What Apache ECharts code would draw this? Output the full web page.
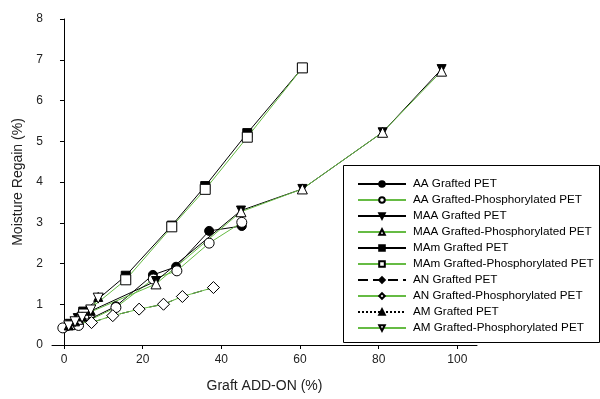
<!DOCTYPE html>
<html>
<head>
<meta charset="utf-8">
<script src="https://cdn.jsdelivr.net/npm/echarts@6/dist/echarts.min.js"></script>
<style>
  html, body { margin: 0; padding: 0; background: #fff; }
  #chart { width: 600px; height: 399px; }
</style>
</head>
<body>
<div id="chart"></div>
<script>
// data: [graft add-on %, moisture regain %]
var aaGrafted   = [[0, 0.42], [3.7, 0.5], [13.2, 0.95], [22.6, 1.72], [28.5, 1.92], [36.9, 2.8], [45.2, 2.92]];
var aaPhos      = [[-0.3, 0.42], [3.7, 0.48], [13.2, 0.92], [22.7, 1.62], [28.7, 1.82], [36.9, 2.5], [45.2, 3.01]];
var maaGrafted  = [[1.5, 0.52], [3.5, 0.66], [6.5, 0.82], [23.4, 1.57], [45, 3.3], [60.6, 3.83], [81, 5.22], [96, 6.77]];
var maaPhos     = [[1.5, 0.5], [3.5, 0.63], [6.5, 0.8], [23.4, 1.5], [45, 3.27], [60.6, 3.83], [81, 5.22], [96, 6.72]];
var mamGrafted  = [[4.9, 0.82], [15.7, 1.7], [27.4, 2.93], [35.9, 3.9], [46.6, 5.2], [60.6, 6.8]];
var mamPhos     = [[5, 0.76], [15.7, 1.6], [27.4, 2.9], [35.9, 3.82], [46.6, 5.1], [60.6, 6.8]];
var anGrafted   = [[7, 0.55], [12.4, 0.72], [19.1, 0.88], [25.3, 1.0], [30.1, 1.19], [38, 1.41]];
var anPhos      = [[7, 0.55], [12.4, 0.72], [19.1, 0.88], [25.3, 1.0], [30.1, 1.19], [38, 1.41]];
var amGrafted   = [[1.2, 0.48], [2.8, 0.58], [4.6, 0.7], [6.8, 0.84], [8.7, 1.18]];
var amPhos      = [[1.2, 0.47], [2.8, 0.57], [4.6, 0.68], [6.8, 0.86], [8.7, 1.15]];

var xTicks = [0, 20, 40, 60, 80, 100];
var names = [
  'AA Grafted PET', 'AA Grafted-Phosphorylated PET',
  'MAA Grafted PET', 'MAA Grafted-Phosphorylated PET',
  'MAm Grafted PET', 'MAm Grafted-Phosphorylated PET',
  'AN Grafted PET', 'AN Grafted-Phosphorylated PET',
  'AM Grafted PET', 'AM Grafted-Phosphorylated PET'
];

var green = '#66bb44';

function mk(name, data, color, symbol, filled, size, lineType, rotate) {
  return {
    name: name,
    type: 'line',
    data: data,
    symbol: symbol,
    symbolSize: size,
    symbolRotate: rotate || 0,
    showAllSymbol: true,
    animation: false,
    lineStyle: { color: color, width: 1, type: lineType || 'solid' },
    itemStyle: { color: filled ? '#000' : '#fff', borderColor: '#000', borderWidth: 1 }
  };
}

var chart = echarts.init(document.getElementById('chart'));
chart.setOption({
  backgroundColor: '#fff',
  textStyle: { fontFamily: 'Liberation Sans, Arial, sans-serif' },
  grid: { left: 52, right: 123, top: 19, bottom: 54, outerBoundsMode: 'none' },
  xAxis: {
    type: 'value',
    min: -3.05,
    max: 105,
    name: 'Graft ADD-ON (%)',
    nameLocation: 'middle',
    nameGap: 34,
    nameTextStyle: { fontSize: 14, color: '#222' },
    axisLine: { lineStyle: { color: '#000', width: 1 } },
    axisTick: { show: true, length: 4, customValues: xTicks, lineStyle: { color: '#000' } },
    axisLabel: { customValues: xTicks, fontSize: 12, color: '#222', margin: 9 },
    splitLine: { show: false }
  },
  yAxis: {
    type: 'value',
    min: 0,
    max: 8,
    interval: 1,
    name: 'Moisture Regain (%)',
    nameLocation: 'middle',
    nameGap: 26,
    nameTextStyle: { fontSize: 14, color: '#222' },
    axisLine: { show: true, lineStyle: { color: '#000', width: 1 } },
    axisTick: { show: true, length: 4, lineStyle: { color: '#000' } },
    axisLabel: { fontSize: 12, color: '#222', margin: 9 },
    splitLine: { show: false }
  },
  graphic: [{
    type: 'rect',
    left: 343, top: 165,
    shape: { width: 256, height: 177 },
    style: { fill: '#fff', stroke: '#000', lineWidth: 1 },
    z: 50
  }],
  legend: {
    data: names,
    orient: 'vertical',
    left: 352,
    top: 173,
    itemWidth: 48,
    itemHeight: 7,
    itemGap: 4,
    selectedMode: false,
    z: 60,
    textStyle: { fontSize: 11.7, color: '#000', padding: [0, 0, 0, 2] }
  },
  series: [
    mk(names[0], aaGrafted, '#000', 'circle', true, 9),
    mk(names[1], aaPhos, green, 'circle', false, 10),
    mk(names[2], maaGrafted, '#000', 'triangle', true, 9, 'solid', 180),
    mk(names[3], maaPhos, green, 'triangle', false, 10),
    mk(names[4], mamGrafted, '#000', 'rect', true, 9),
    mk(names[5], mamPhos, green, 'rect', false, 10),
    mk(names[6], anGrafted, '#000', 'diamond', true, 11, [10, 5]),
    mk(names[7], anPhos, green, 'diamond', false, 12),
    mk(names[8], amGrafted, '#000', 'triangle', true, 9, 'dotted'),
    mk(names[9], amPhos, green, 'triangle', false, 10, 'solid', 180)
  ]
});
</script>
</body>
</html>
